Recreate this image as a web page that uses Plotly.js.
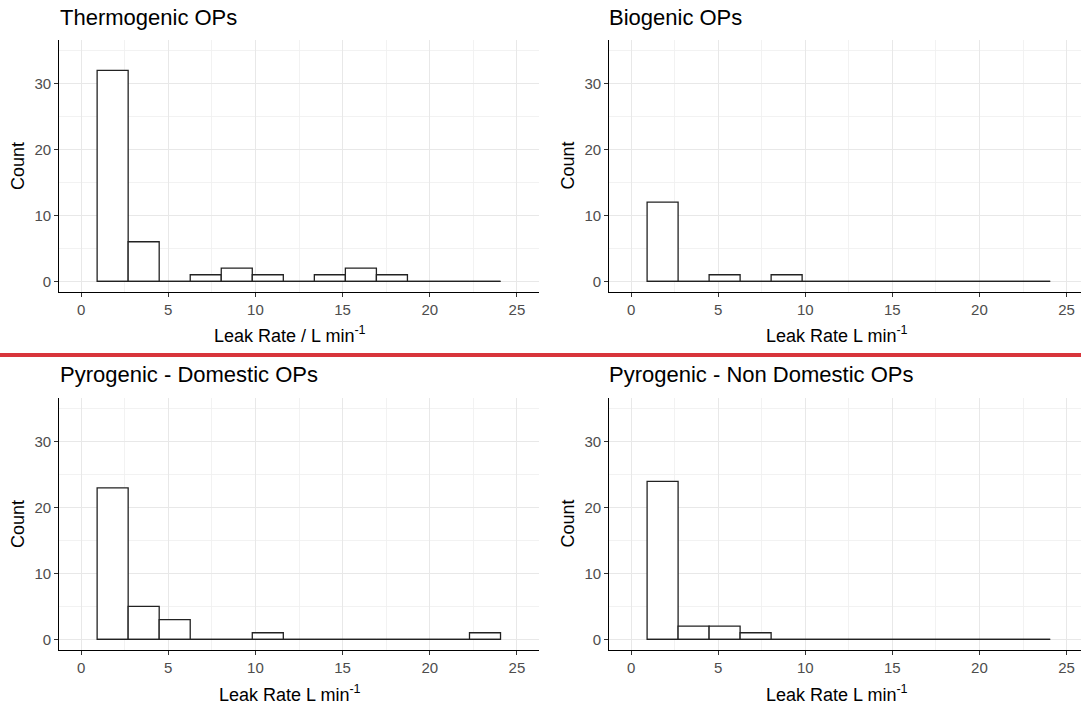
<!DOCTYPE html>
<html>
<head>
<meta charset="utf-8">
<script src="https://cdn.plot.ly/plotly-3.0.1.min.js"></script>
<style>
  html, body { margin: 0; padding: 0; background: #fff; }
  #chart { width: 1081px; height: 709px; }
</style>
</head>
<body>
<div id="chart"></div>
<script>
// ---- Data ----
const binEdges = [0.92, 2.70, 4.48, 6.26, 8.04, 9.82, 11.60, 13.38, 15.16, 16.94, 18.72, 20.50, 22.28, 24.06];
const thermogenicCounts  = [32, 6, 0, 1, 2, 1, 0, 1, 2, 1, 0, 0, 0];
const biogenicCounts     = [12, 0, 1, 0, 1, 0, 0, 0, 0, 0, 0, 0, 0];
const domesticCounts     = [23, 5, 3, 0, 0, 1, 0, 0, 0, 0, 0, 0, 1];
const nonDomesticCounts  = [24, 2, 2, 1, 0, 0, 0, 0, 0, 0, 0, 0, 0];
const panelTitles = ["Thermogenic OPs", "Biogenic OPs", "Pyrogenic - Domestic OPs", "Pyrogenic - Non Domestic OPs"];
const xTitles = ["Leak Rate / L min<sup>-1</sup>", "Leak Rate L min<sup>-1</sup>", "Leak Rate L min<sup>-1</sup>", "Leak Rate L min<sup>-1</sup>"];
const yTitle = "Count";
const xTickVals = [0, 5, 10, 15, 20, 25];
const yTickVals = [0, 10, 20, 30];

// ---- Build traces ----
const W = 1081, H = 709;
const FONT = "Liberation Sans, Arial, sans-serif";
const series = [thermogenicCounts, biogenicCounts, domesticCounts, nonDomesticCounts];
const centers = binEdges.slice(0, -1).map((e, i) => (e + binEdges[i + 1]) / 2);
const widths = binEdges.slice(0, -1).map((e, i) => binEdges[i + 1] - e);

const traces = [];
series.forEach((counts, k) => {
  const sfx = k === 0 ? "" : String(k + 1);
  traces.push({
    type: "bar",
    x: centers, y: counts, width: widths,
    xaxis: "x" + sfx, yaxis: "y" + sfx,
    marker: { color: "#ffffff", line: { color: "#222222", width: 1.3 } },
    hoverinfo: "x+y", showlegend: false
  });
  // baseline outline drawn by zero-count bins
  traces.push({
    type: "scatter", mode: "lines",
    x: [binEdges[0], binEdges[binEdges.length - 1]], y: [0, 0],
    xaxis: "x" + sfx, yaxis: "y" + sfx,
    line: { color: "#222222", width: 1.3 },
    hoverinfo: "skip", showlegend: false
  });
});

// ---- Layout ----
const px = v => v / W;
const py = v => 1 - v / H;
const colX = [[px(59.3), px(538.7)], [px(609.3), 1]];
const rowY = [[py(292), py(40)], [py(650), py(398.3)]];
const xRanges = [[-1.25, 26.25], [-1.25, 25.83]];
const yRange = [-1.62, 36.6];

function xAxis(col, anchor) {
  return {
    domain: colX[col], range: xRanges[col], anchor: anchor,
    tickvals: xTickVals, ticks: "outside", ticklen: 4, tickwidth: 1, tickcolor: "#333",
    tickfont: { family: FONT, size: 15, color: "#4d4d4d" },
    showline: true, linecolor: "#000", linewidth: 1.2, mirror: false,
    showgrid: true, gridcolor: "#e8e8e8", gridwidth: 1, zeroline: false,
    minor: { dtick: 2.5, tick0: 0, showgrid: true, gridcolor: "#efefef", gridwidth: 0.8, ticks: "" },
    fixedrange: true
  };
}
function yAxis(row, anchor) {
  return {
    domain: rowY[row], range: yRange, anchor: anchor,
    tickvals: yTickVals, ticks: "outside", ticklen: 4, tickwidth: 1, tickcolor: "#333",
    tickfont: { family: FONT, size: 15, color: "#4d4d4d" },
    showline: true, linecolor: "#000", linewidth: 1.2, mirror: false,
    showgrid: true, gridcolor: "#e8e8e8", gridwidth: 1, zeroline: false,
    minor: { dtick: 5, tick0: 0, showgrid: true, gridcolor: "#efefef", gridwidth: 0.8, ticks: "" },
    fixedrange: true
  };
}

const panels = [
  { col: 0, row: 0, titleX: 58, titleY: 18, xtX: 289.5, xtY: 335, ytY: 166 },
  { col: 1, row: 0, titleX: 607, titleY: 18, xtX: 836.5, xtY: 335, ytY: 166 },
  { col: 0, row: 1, titleX: 58, titleY: 375, xtX: 289.5, xtY: 693, ytY: 524 },
  { col: 1, row: 1, titleX: 607, titleY: 375, xtX: 836.5, xtY: 693, ytY: 524 }
];

const layout = {
  width: W, height: H,
  margin: { l: 0, r: 0, t: 0, b: 0 },
  paper_bgcolor: "#fff", plot_bgcolor: "#fff",
  font: { family: FONT },
  showlegend: false,
  annotations: [],
  shapes: [{
    type: "line", xref: "paper", yref: "paper",
    x0: 0, x1: 1, y0: py(355), y1: py(355),
    line: { color: "#d8353b", width: 4 }
  }]
};

panels.forEach((p, k) => {
  const sfx = k === 0 ? "" : String(k + 1);
  layout["xaxis" + sfx] = xAxis(p.col, "y" + sfx);
  layout["yaxis" + sfx] = yAxis(p.row, "x" + sfx);
  layout.annotations.push({
    text: panelTitles[k], xref: "paper", yref: "paper",
    x: px(p.titleX), y: py(p.titleY), xanchor: "left", yanchor: "middle",
    showarrow: false, font: { family: FONT, size: 22, color: "#000" }
  });
  layout.annotations.push({
    text: xTitles[k], xref: "paper", yref: "paper",
    x: px(p.xtX), y: py(p.xtY), xanchor: "center", yanchor: "middle",
    showarrow: false, font: { family: FONT, size: 18, color: "#000" }
  });
  layout.annotations.push({
    text: yTitle, xref: "paper", yref: "paper", textangle: -90,
    x: px(p.col === 0 ? 18 : 567.5), y: py(p.ytY), xanchor: "center", yanchor: "middle",
    showarrow: false, font: { family: FONT, size: 18, color: "#000" }
  });
});

Plotly.newPlot("chart", traces, layout, { staticPlot: true, displayModeBar: false });
</script>
</body>
</html>
